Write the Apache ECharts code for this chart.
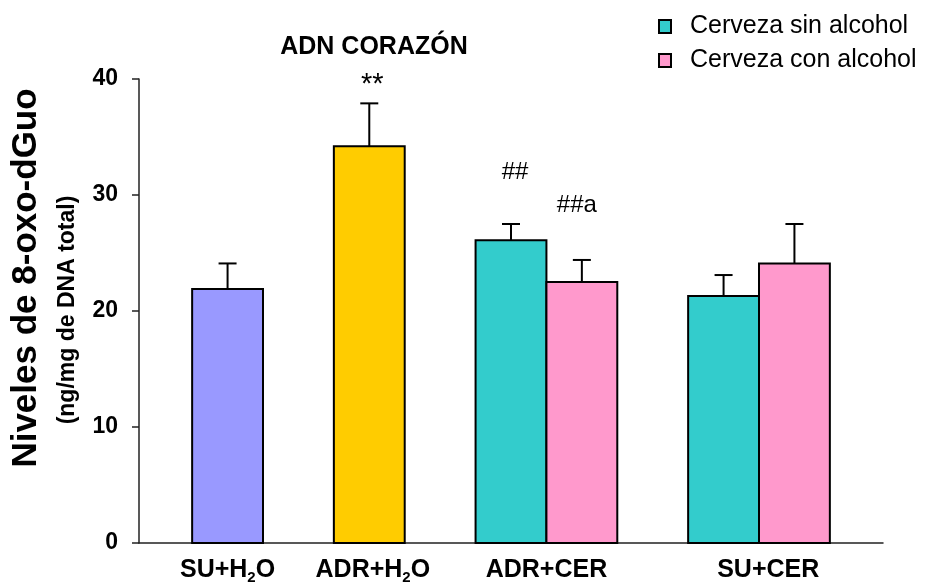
<!DOCTYPE html>
<html>
<head>
<meta charset="utf-8">
<script src="https://cdn.jsdelivr.net/npm/echarts@6/dist/echarts.min.js"></script>
<style>
  html, body { margin: 0; padding: 0; background: #fff; }
  #chart { width: 927px; height: 583px; }
</style>
</head>
<body>
<div id="chart"></div>
<script>
// Oxidative DNA damage in heart tissue, mean ± SD per treatment group
const categories = ['SU+H2O', 'ADR+H2O', 'ADR+CER', 'SU+CER'];
const waterMeans = [21.9, 34.2];
const waterSD = [2.2, 3.7];
const sinMeans = [26.1, 21.3];
const sinSD = [1.4, 1.8];
const conMeans = [22.5, 24.1];
const conSD = [1.9, 3.4];
const seriesNames = ['Cerveza sin alcohol', 'Cerveza con alcohol'];
const yTicks = [0, 10, 20, 30, 40];
const notes = ['**', '##', '##a'];

// Layout: x is measured in bar widths; each bar is one unit wide
const X_MAX = 10.5;
const waterSlots = [1.25, 3.25];
const sinSlots = [5.25, 8.25];
const conSlots = [6.25, 9.25];
const labelSlots = [1.25, 3.3, 5.75, 8.88];
const noteOffsets = [[3, -18], [4, -52], [-5, -55]];
const noteSizes = [29, 24, 24];

const FONT = "'Liberation Sans', Arial, Helvetica, sans-serif";
const colors = { su: '#9999FF', adr: '#FFCC00', sin: '#33CCCC', con: '#FF99CC' };

function barItem(params, api) {
  const x = api.value(0);
  const v = api.value(1);
  const p0 = api.coord([x - 0.5, v]);
  const p1 = api.coord([x + 0.5, 0]);
  return {
    type: 'rect',
    shape: { x: p0[0], y: p0[1], width: p1[0] - p0[0], height: p1[1] - p0[1] },
    style: { fill: api.visual('color'), stroke: '#000', lineWidth: 2 }
  };
}

function errItem(params, api) {
  const x = api.value(0);
  const m = api.value(1);
  const sd = api.value(2);
  const a = api.coord([x, m]);
  const b = api.coord([x, m + sd]);
  const half = 9;
  return {
    type: 'group',
    children: [
      { type: 'line', shape: { x1: a[0], y1: a[1], x2: b[0], y2: b[1] }, style: { stroke: '#000', lineWidth: 2 } },
      { type: 'line', shape: { x1: b[0] - half, y1: b[1], x2: b[0] + half, y2: b[1] }, style: { stroke: '#000', lineWidth: 2 } }
    ]
  };
}

function noteItem(params, api) {
  const x = api.value(0);
  const top = api.value(1);
  const p = api.coord([x, top]);
  const i = params.dataIndex;
  const off = noteOffsets[i];
  return {
    type: 'text',
    x: p[0] + off[0],
    y: p[1] + off[1],
    style: {
      text: notes[i],
      font: noteSizes[i] + 'px ' + FONT,
      fill: '#000',
      align: 'center',
      verticalAlign: 'middle'
    }
  };
}

const waterData = waterMeans.map((v, i) => ({
  value: [waterSlots[i], v],
  itemStyle: { color: i === 0 ? colors.su : colors.adr }
}));
const sinData = sinMeans.map((v, i) => [sinSlots[i], v]);
const conData = conMeans.map((v, i) => [conSlots[i], v]);

const errData = []
  .concat(waterMeans.map((v, i) => [waterSlots[i], v, waterSD[i]]))
  .concat(sinMeans.map((v, i) => [sinSlots[i], v, sinSD[i]]))
  .concat(conMeans.map((v, i) => [conSlots[i], v, conSD[i]]));

// notes sit above the error bars of ADR+H2O, ADR+CER (sin) and ADR+CER (con)
const noteData = [
  [waterSlots[1], waterMeans[1] + waterSD[1]],
  [sinSlots[0], sinMeans[0] + sinSD[0]],
  [conSlots[0], conMeans[0] + conSD[0]]
];

const labelRich = {
  s: { fontSize: 15, fontWeight: 'bold', fontFamily: FONT, color: '#000', verticalAlign: 'bottom', lineHeight: 15 }
};

const chart = echarts.init(document.getElementById('chart'), null, { renderer: 'canvas' });
chart.setOption({
  animation: false,
  backgroundColor: '#fff',
  grid: { left: 139, right: 44, top: 79, bottom: 40, containLabel: false, outerBoundsMode: 'none' },
  legend: {
    orient: 'vertical',
    left: 658,
    top: 14,
    padding: 0,
    itemWidth: 12,
    itemHeight: 13,
    itemGap: 9,
    selectedMode: false,
    textStyle: { fontFamily: FONT, fontSize: 25, color: '#000', padding: [0, 0, 0, 14] },
    data: seriesNames.map(n => ({ name: n, icon: 'rect', itemStyle: { borderColor: '#000', borderWidth: 2 } }))
  },
  xAxis: {
    type: 'value',
    min: 0,
    max: X_MAX,
    splitLine: { show: false },
    axisTick: { show: false },
    axisLine: { show: true, onZero: false, lineStyle: { color: '#222', width: 1.5 } },
    axisLabel: {
      customValues: labelSlots,
      margin: 12,
      fontFamily: FONT,
      fontSize: 25,
      fontWeight: 'bold',
      color: '#000',
      lineHeight: 30,
      formatter: (val) => {
        const idx = labelSlots.indexOf(val);
        const name = idx >= 0 ? categories[idx] : '';
        return name.replace('H2O', 'H{s|2}O');
      },
      rich: labelRich
    }
  },
  yAxis: {
    type: 'value',
    min: 0,
    max: 40,
    interval: 10,
    splitLine: { show: false },
    axisLine: { show: true, lineStyle: { color: '#222', width: 1.5 } },
    axisTick: { show: true, inside: false, length: 7, lineStyle: { color: '#222', width: 1.5 } },
    axisLabel: {
      margin: 21,
      fontFamily: FONT,
      fontSize: 23,
      fontWeight: 'bold',
      color: '#000',
      formatter: (v) => (yTicks.indexOf(v) >= 0 ? String(v) : '')
    }
  },
  graphic: [
    {
      type: 'text', x: 374, y: 47,
      style: { text: 'ADN CORAZÓN', font: 'bold 25px ' + FONT, fill: '#000', align: 'center', verticalAlign: 'middle' }
    },
    {
      type: 'text', x: 26, y: 278, rotation: Math.PI / 2,
      style: { text: 'Niveles de 8-oxo-dGuo', font: 'bold 35px ' + FONT, fill: '#000', align: 'center', verticalAlign: 'middle' }
    },
    {
      type: 'text', x: 67.5, y: 310, rotation: Math.PI / 2,
      style: { text: '(ng/mg de DNA total)', font: 'bold 23px ' + FONT, fill: '#000', align: 'center', verticalAlign: 'middle' }
    }
  ],
  series: [
    { name: 'Agua', type: 'custom', renderItem: barItem, data: waterData, z: 2 },
    { name: seriesNames[0], type: 'custom', renderItem: barItem, data: sinData, itemStyle: { color: colors.sin }, z: 2 },
    { name: seriesNames[1], type: 'custom', renderItem: barItem, data: conData, itemStyle: { color: colors.con }, z: 2 },
    { name: 'DE', type: 'custom', renderItem: errItem, data: errData, z: 3, silent: true },
    { name: 'Notas', type: 'custom', renderItem: noteItem, data: noteData, z: 4, silent: true }
  ]
});
</script>
</body>
</html>
